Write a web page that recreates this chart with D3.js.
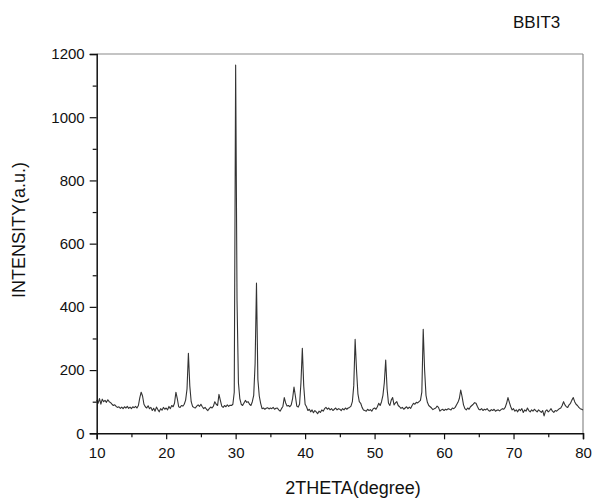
<!DOCTYPE html>
<html>
<head>
<meta charset="utf-8">
<script src="https://cdn.jsdelivr.net/npm/d3@7"></script>
<style>
  html, body { margin: 0; padding: 0; background: #fff; }
  text { font-family: "Liberation Sans", Arial, sans-serif; fill: #111; }
</style>
</head>
<body>
<svg id="chart" width="595" height="500"></svg>
<script>
// ---- data ----
const xStart = 10, xStep = 0.2;
const intensity = [
  105, 95, 110, 92, 108,   // 10
  100, 104, 98, 106, 100,  // 11
  97, 92, 88, 90, 85,      // 12
  82, 84, 79, 83, 78,      // 13
  84, 80, 85, 79, 83,      // 14
  78, 84, 81, 85, 80,      // 15
  88, 112, 130, 118, 92,   // 16
  84, 80, 87, 78, 82,      // 17
  72, 79, 70, 83, 75,      // 18
  68, 78, 73, 82, 76,      // 19
  80, 74, 85, 78, 88,      // 20
  84, 95, 130, 110, 84,    // 21
  82, 88, 86, 92, 105,     // 22
  140, 253, 150, 100, 85,  // 23
  82, 80, 86, 90, 85,      // 24
  92, 84, 78, 82, 76,      // 25
  72, 78, 83, 80, 86,      // 26
  100, 92, 88, 123, 104,   // 27
  86, 82, 88, 84, 90,      // 28
  85, 89, 88, 92, 130,     // 29
  1165, 420, 160, 110, 92, // 30
  88, 96, 104, 98, 100,    // 31
  92, 88, 100, 120, 220,   // 32
  475, 170, 118, 95, 78,   // 33
  80, 76, 79, 81, 77,      // 34
  80, 78, 82, 76, 79,      // 35
  80, 74, 70, 78, 85,      // 36
  113, 96, 86, 88, 84,     // 37
  90, 110, 146, 118, 86,   // 38
  83, 92, 160, 269, 150,   // 39
  92, 84, 72, 76, 68,      // 40
  74, 65, 72, 68, 62,      // 41
  70, 66, 74, 70, 78,      // 42
  82, 76, 80, 74, 78,      // 43
  72, 76, 80, 74, 78,      // 44
  76, 72, 78, 74, 80,      // 45
  76, 80, 82, 86, 100,     // 46
  150, 297, 200, 125, 100, // 47
  95, 82, 74, 72, 70,      // 48
  76, 72, 75, 70, 78,      // 49
  80, 76, 84, 95, 88,      // 50
  100, 120, 160, 232, 140, // 51
  95, 88, 105, 113, 90,    // 52
  96, 100, 88, 84, 79,     // 53
  82, 76, 80, 84, 78,      // 54
  83, 79, 88, 95, 92,      // 55
  98, 96, 100, 104, 130,   // 56
  329, 200, 120, 98, 88,   // 57
  84, 80, 75, 78, 80,      // 58
  86, 82, 70, 74, 76,      // 59
  72, 76, 74, 78, 76,      // 60
  74, 80, 78, 82, 90,      // 61
  98, 110, 137, 115, 90,   // 62
  78, 74, 80, 76, 84,      // 63
  88, 92, 97, 95, 85,      // 64
  76, 74, 78, 72, 76,      // 65
  74, 78, 72, 70, 75,      // 66
  72, 76, 70, 73, 74,      // 67
  71, 75, 78, 76, 82,      // 68
  95, 113, 98, 84, 74,     // 69
  78, 70, 74, 68, 76,      // 70
  72, 78, 66, 74, 70,      // 71
  80, 72, 68, 74, 70,      // 72
  76, 72, 68, 74, 70,      // 73
  66, 72, 55, 70, 74,      // 74
  68, 72, 78, 70, 66,      // 75
  72, 70, 74, 78, 80,      // 76
  88, 100, 90, 84, 82,     // 77
  90, 95, 105, 113, 100,   // 78
  92, 88, 82, 78, 76,      // 79
  74                       // 80
];
const twoTheta = intensity.map((_, i) => +(xStart + i * xStep).toFixed(1));

const xTicks = [10, 20, 30, 40, 50, 60, 70, 80];
const xMinorTicks = [15, 25, 35, 45, 55, 65, 75];
const yTicks = [0, 200, 400, 600, 800, 1000, 1200];
const yMinorTicks = [100, 300, 500, 700, 900, 1100];
const sampleLabel = "BBIT3";
const xTitle = "2THETA(degree)";
const yTitle = "INTENSITY(a.u.)";

// ---- layout ----
const svg = d3.select("#chart");
const L = 96.7, R = 583, T = 54, B = 433.3;

const x = d3.scaleLinear().domain([10, 80]).range([L, R]);
const y = d3.scaleLinear().domain([0, 1200]).range([B, T]);

// frame top & right
svg.append("line").attr("x1", L).attr("x2", R).attr("y1", T).attr("y2", T)
  .attr("stroke", "#8a8a8a").attr("stroke-width", 1.2);
svg.append("line").attr("x1", R).attr("x2", R).attr("y1", T).attr("y2", B)
  .attr("stroke", "#8a8a8a").attr("stroke-width", 1.2);

// data line
const line = d3.line().x((d, i) => x(twoTheta[i])).y(d => y(d));
svg.append("path").datum(intensity)
  .attr("d", line)
  .attr("fill", "none")
  .attr("stroke", "#333")
  .attr("stroke-width", 1.1)
  .attr("stroke-linejoin", "round");

// x axis
const gx = svg.append("g").attr("transform", `translate(0,${B})`);
gx.call(d3.axisBottom(x).tickValues(xMinorTicks).tickSize(4).tickFormat(""));
gx.call(g => g.selectAll(".domain").remove());
const gx2 = svg.append("g").attr("transform", `translate(0,${B})`)
  .call(d3.axisBottom(x).tickValues(xTicks).tickSize(6).tickPadding(8).tickFormat(d3.format("d")));
gx2.selectAll("text").attr("font-size", 15).attr("fill", "#111")
  .style("font-family", '"Liberation Sans", Arial, sans-serif');

// y axis
const gy = svg.append("g").attr("transform", `translate(${L},0)`);
gy.call(d3.axisLeft(y).tickValues(yMinorTicks).tickSize(4).tickFormat(""));
gy.call(g => g.selectAll(".domain").remove());
const gy2 = svg.append("g").attr("transform", `translate(${L},0)`)
  .call(d3.axisLeft(y).tickValues(yTicks).tickSize(7).tickPadding(5).tickFormat(d3.format("d")));
gy2.selectAll("text").attr("font-size", 15).attr("fill", "#111")
  .style("font-family", '"Liberation Sans", Arial, sans-serif');

svg.selectAll(".domain").attr("stroke", "#111").attr("stroke-width", 1.5);
svg.selectAll(".tick line").attr("stroke", "#111").attr("stroke-width", 1.2);

// titles
svg.append("text").attr("x", 353).attr("y", 494)
  .attr("text-anchor", "middle").attr("font-size", 18).text(xTitle);
svg.append("text").attr("transform", "translate(25,230) rotate(-90)")
  .attr("text-anchor", "middle").attr("font-size", 18).text(yTitle);
svg.append("text").attr("x", 513).attr("y", 27.5)
  .attr("font-size", 17).text(sampleLabel);
</script>
</body>
</html>
